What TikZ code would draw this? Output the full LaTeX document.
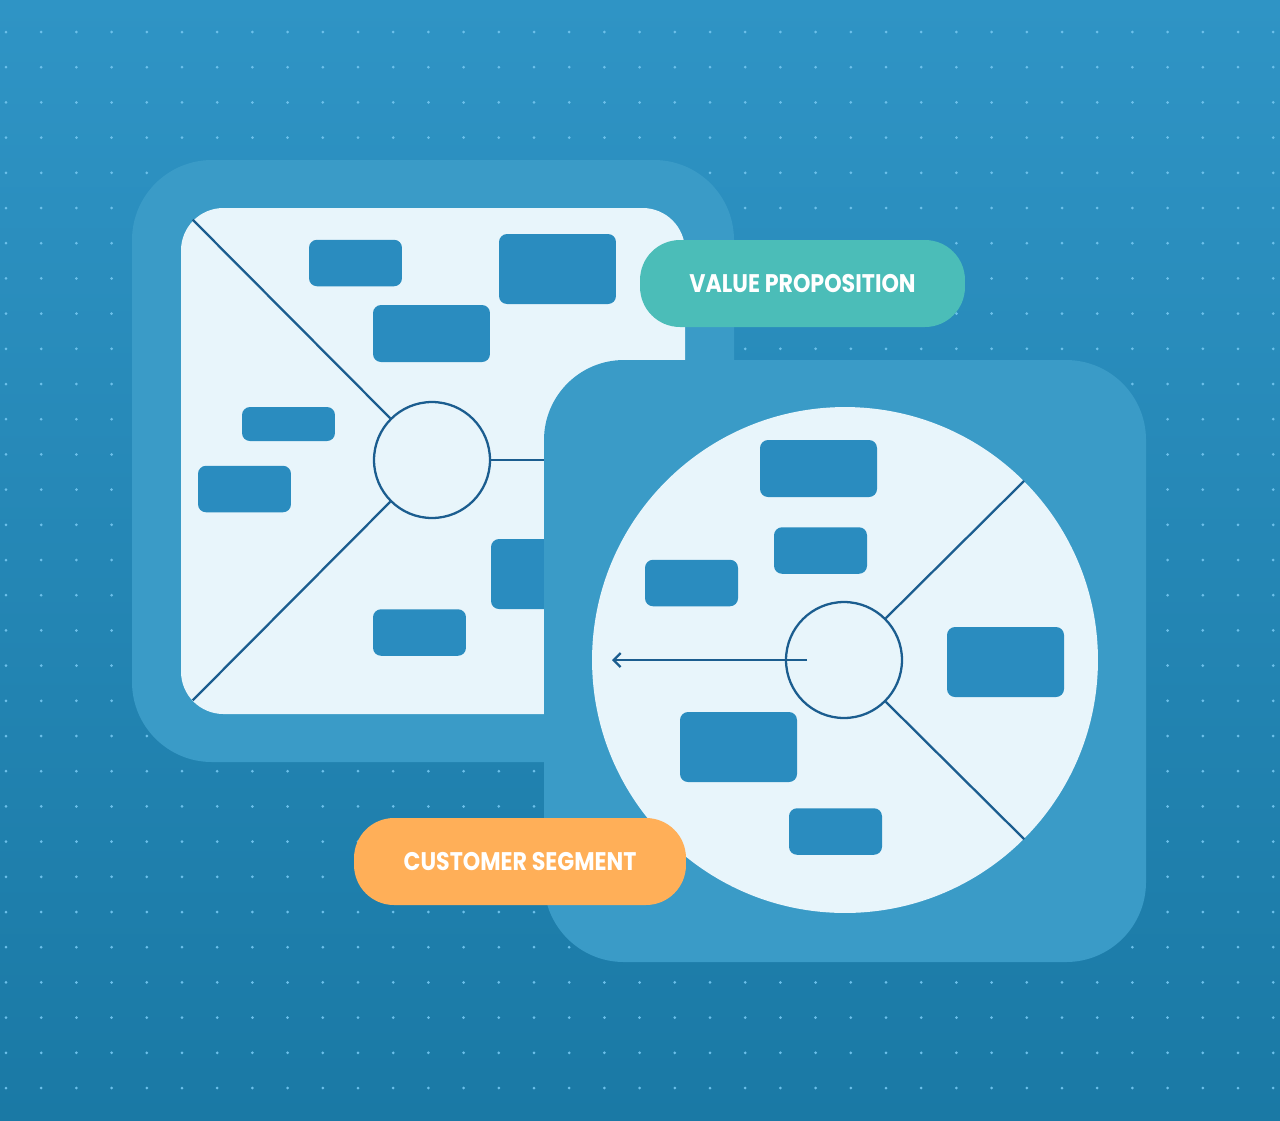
\documentclass[tikz,border=0pt]{standalone}
\usepackage{fontspec}
\setmainfont{Poppins}[FakeStretch=0.87]
\usetikzlibrary{arrows.meta}
\definecolor{bgtop}{HTML}{2F94C5}
\definecolor{bgbot}{HTML}{1A79A5}
\definecolor{dotc}{HTML}{6CC0EA}
\definecolor{frame}{HTML}{3A9BC7}
\definecolor{panel}{HTML}{E8F5FB}
\definecolor{cardc}{HTML}{2A8CBF}
\definecolor{ink}{HTML}{1B5D8F}
\definecolor{teal}{HTML}{4BBDB8}
\definecolor{peach}{HTML}{FFAF58}
\tikzset{>={Straight Barb[length=4pt,width=8pt]}}
\tikzset{
    card/.style={fill=cardc,rounded corners=0.16cm,inner sep=0pt,outer sep=0pt},
    card small/.style={card,minimum width=1.86cm,minimum height=0.93cm},
    card mid/.style={card,minimum width=2.34cm,minimum height=1.14cm},
    card big/.style={card,minimum width=2.34cm,minimum height=1.4cm},
    hub/.style={circle,draw=ink,line width=1.3pt,fill=panel,minimum size=2.32cm,inner sep=0pt},
    spoke/.style={draw=ink,line width=1.3pt},
    tag/.style={rounded corners=0.8cm,minimum width=6.5cm,minimum height=1.74cm,
        text=white,font=\bfseries\fontsize{14.5}{16}\selectfont,inner sep=0pt}
}

\begin{document}
\begin{tikzpicture}[x=0.02cm,y=-0.02cm]
        \useasboundingbox (0,0) rectangle (1280,1120);
        \shade[top color=bgtop,bottom color=bgbot] (0,0) rectangle (1280,1120);
        \foreach \i in {0,...,36}
            \foreach \j in {0,...,30}
                \fill[dotc] (6+35.2*\i,32+35.2*\j) circle (0.03cm);

        \fill[frame,rounded corners=1.6cm] (132,160) rectangle (734,762);
        \fill[panel,rounded corners=0.85cm] (181,208) rectangle (685,714);

        \node[hub] (hubL) at (432,460) {};
        \coordinate (cornerNW) at (192.7,219.7);
        \coordinate (cornerSW) at (192.7,700.3);
        \coordinate (edgeE) at (570,460);
        \draw[spoke] (hubL.135) -- (cornerNW);
        \draw[spoke] (hubL.-135) -- (cornerSW);
        \draw[spoke] (hubL.east) -- (edgeE);

        \node[card small] (vp1) at (355.5,263) {};
        \node[card big] (vp2) at (557.5,269) {};
        \node[card mid] (vp3) at (431.5,333.5) {};
        \node[card small,minimum height=0.68cm] (vp4) at (288.5,424) {};
        \node[card small] (vp5) at (244.5,489) {};
        \node[card big] (vp6) at (549.5,574) {};
        \node[card small] (vp7) at (419.5,632.5) {};

        \node[tag,fill=teal] (value) at (802.5,283.5) {VALUE PROPOSITION};

        \fill[frame,rounded corners=1.6cm] (544,360) rectangle (1146,962);
        \node[circle,fill=panel,minimum size=10.12cm,inner sep=0pt] (wheel) at (845,660) {};
        \node[hub] (hubR) at (844,660) {};
        \draw[spoke] (hubR.45) -- (wheel.45);
        \draw[spoke] (hubR.-45) -- (wheel.-45);
        \coordinate (tail) at (807,660);
        \coordinate (tip) at (612,660);
        \draw[spoke,->] (tail) -- (tip);

        \node[card mid] (cs1) at (818.5,468.5) {};
        \node[card small] (cs2) at (820.5,550.5) {};
        \node[card small] (cs3) at (691.5,583) {};
        \node[card big] (cs4) at (1005.5,662) {};
        \node[card big] (cs5) at (738.5,747) {};
        \node[card small] (cs6) at (835.5,831.5) {};

        \node[tag,fill=peach,minimum width=6.64cm] (segment) at (520,861.5) {CUSTOMER SEGMENT};
    \end{tikzpicture}
\end{document}
